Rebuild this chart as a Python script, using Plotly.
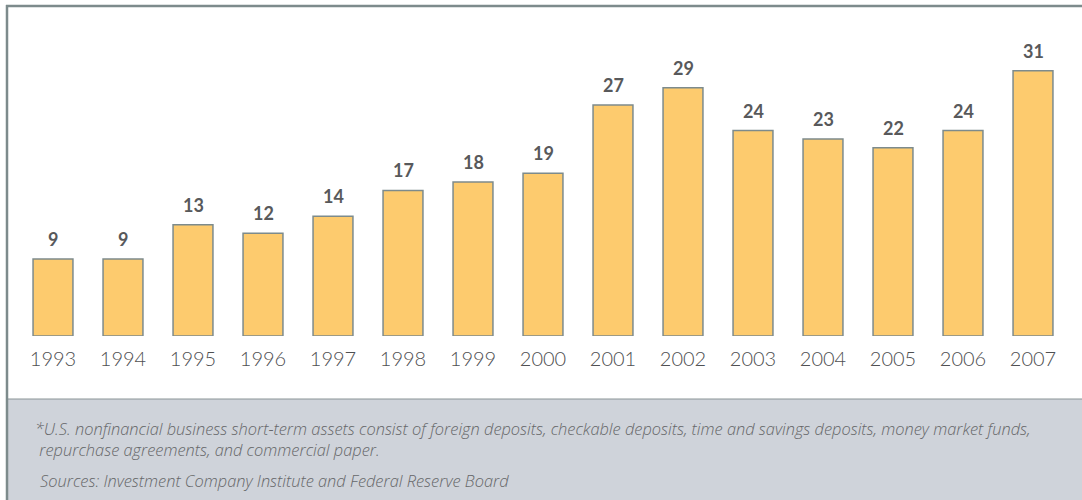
import plotly.graph_objects as go

# U.S. nonfinancial business short-term assets held in money market funds (percent)
years = ["1993", "1994", "1995", "1996", "1997", "1998", "1999", "2000",
         "2001", "2002", "2003", "2004", "2005", "2006", "2007"]
shares = [9, 9, 13, 12, 14, 17, 18, 19, 27, 29, 24, 23, 22, 24, 31]

footnote_1 = ("*U.S. nonfinancial business short-term assets consist of foreign deposits, "
              "checkable deposits, time and savings deposits, money market funds,")
footnote_2 = "repurchase agreements, and commercial paper."
sources = "Sources: Investment Company Institute and Federal Reserve Board"

W, H = 1082, 500
BAR_FILL = "#FDCB6E"
EDGE = "#7D8B8C"
TEXT = "#58595B"
FONT = "Lato, Open Sans, sans-serif"
FOOT_FONT = "Open Sans, Lato, sans-serif"


def px_x(p):
    return p / W


def px_y(p):
    return 1 - p / H


fig = go.Figure()
fig.add_trace(go.Bar(
    x=years, y=shares,
    marker=dict(color=BAR_FILL, line=dict(color=EDGE, width=1.5)),
    hoverinfo="x+y",
))

# value labels above each bar (x given as category index)
for i, v in enumerate(shares):
    fig.add_annotation(x=i, y=v, xref="x", yref="y", text=f"<b>{v}</b>",
                       showarrow=False, yanchor="middle", yshift=20,
                       font=dict(family=FONT, size=18, color=TEXT))

shapes = [
    # footer panel
    dict(type="rect", xref="paper", yref="paper", x0=px_x(7), x1=1.0,
         y0=0, y1=px_y(399), fillcolor="#CFD3DA", line=dict(width=0), layer="below"),
    dict(type="line", xref="paper", yref="paper", x0=px_x(7), x1=1.0,
         y0=px_y(399), y1=px_y(399), line=dict(color="#8A9496", width=1)),
    # frame
    dict(type="line", xref="paper", yref="paper", x0=px_x(6), x1=1.0,
         y0=px_y(6), y1=px_y(6), line=dict(color=EDGE, width=2.5)),
    dict(type="line", xref="paper", yref="paper", x0=px_x(7), x1=px_x(7),
         y0=px_y(5), y1=0, line=dict(color=EDGE, width=2.5)),
]

foot_font = dict(family=FOOT_FONT, size=16.4, weight=300, color="#666769")
notes = [
    (f"{footnote_1}<br>&nbsp;{footnote_2}", 33, 438.5),
    (sources, 38, 480),
]
for txt, xp, yp in notes:
    fig.add_annotation(x=px_x(xp), y=px_y(yp), xref="paper", yref="paper",
                       text=f"<i>{txt}</i>", showarrow=False, align="left",
                       xanchor="left", yanchor="middle", font=foot_font)

fig.update_layout(
    width=W, height=H,
    margin=dict(l=0, r=0, t=0, b=0),
    paper_bgcolor="white", plot_bgcolor="white",
    showlegend=False,
    bargap=0.43,
    shapes=shapes,
    xaxis=dict(type="category", range=[-0.5, len(years) - 0.5],
               domain=[px_x(18), px_x(1068)], showgrid=False,
               showline=False, zeroline=False, ticks="outside", ticklen=5,
               tickcolor="rgba(0,0,0,0)",
               tickfont=dict(family=FONT, size=20, weight=300, color="#4F5052"),
               automargin=False),
    yaxis=dict(domain=[px_y(336), px_y(36)], range=[0, 300 / 8.56],
               visible=False, showgrid=False, zeroline=False, automargin=False),
)

fig.write_html("out.html")
